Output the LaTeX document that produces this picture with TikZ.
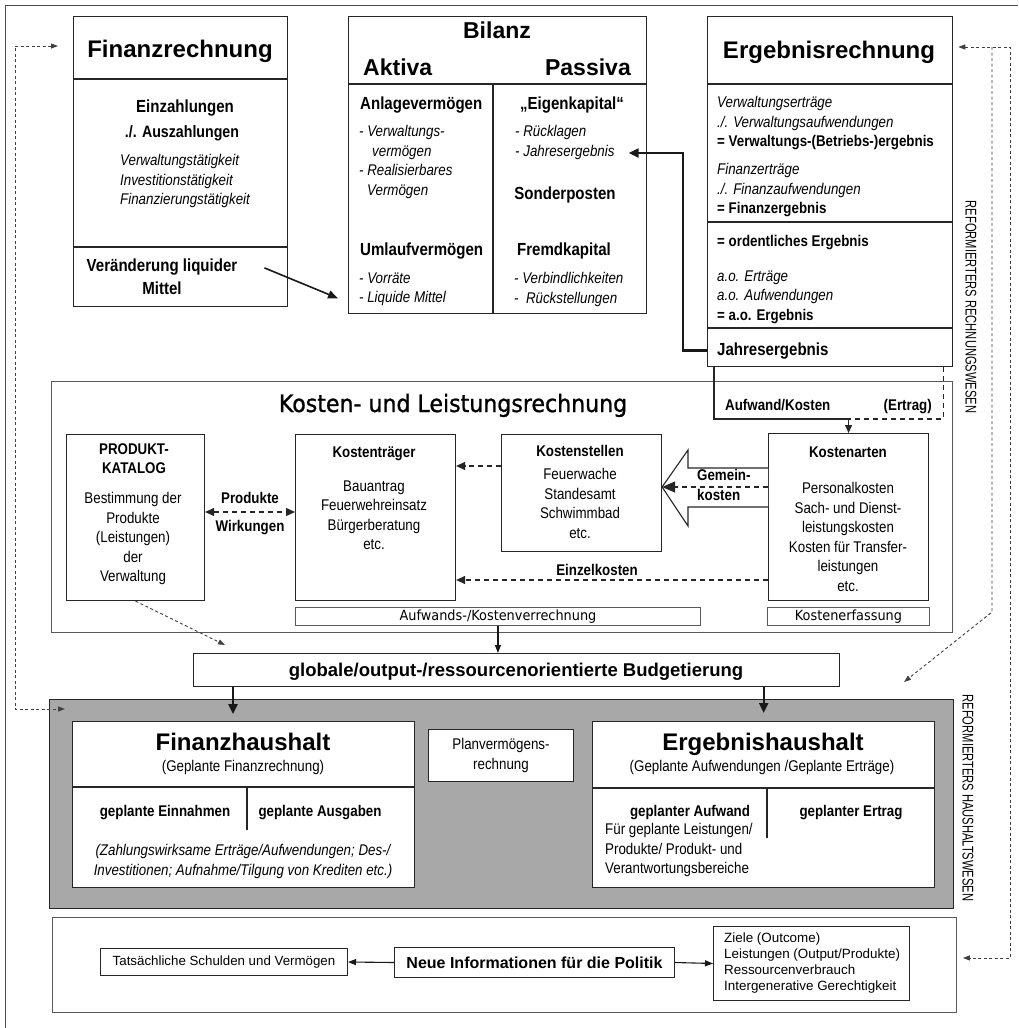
\documentclass[tikz,border=0pt]{standalone}
\usepackage{fontspec}
\setmainfont{Liberation Sans}[FakeStretch=0.86]
\newfontfamily\widefont{Liberation Sans}
\newfontfamily\condfont{Liberation Sans}[FakeStretch=0.72]
\newfontfamily\tahfont{DejaVu Sans}[FakeStretch=0.92]
\newfontfamily\tahtitlefont{DejaVu Sans}[FakeStretch=0.92, FakeBold=1]
\usetikzlibrary{calc, arrows.meta, positioning}

\begin{document}
\begin{tikzpicture}[
   x=1pt, y=-1pt,
   box/.style = {draw=black!85, line width=1.3pt, fill=white, inner sep=0pt, anchor=north west},
   thinbox/.style = {box, draw=black!65, line width=0.9pt},
   divline/.style = {draw=black!85, line width=1.1pt},
   title/.style = {font=\widefont\bfseries\fontsize{24}{28}\selectfont, inner sep=0pt, anchor=base},
   head/.style = {font=\bfseries\fontsize{17.5}{21}\selectfont, inner sep=0pt, anchor=base},
   lab/.style = {font=\bfseries\fontsize{15.5}{19.5}\selectfont, inner sep=0pt, anchor=base},
   txt/.style = {font=\fontsize{15.5}{19.5}\selectfont, inner sep=0pt, anchor=base},
   itxt/.style = {font=\itshape\fontsize{15.5}{19.5}\selectfont, inner sep=0pt, anchor=base},
   strt/.style = {execute at begin node=\strut},
   arr/.style = {draw=black!90, line width=1.6pt, -{Triangle[length=10pt, width=8pt]}},
   fatarr/.style = {draw=black!90, line width=2.2pt, -{Triangle[length=10pt, width=9pt]}},
   darr/.style = {draw=black!85, line width=1.2pt, dash pattern=on 5pt off 4pt, -{Triangle[length=9pt, width=8pt]}},
   fb/.style = {draw=black!75, line width=0.9pt, dash pattern=on 3pt off 2.5pt},
   fbend/.style = {-{Triangle[length=7pt, width=5pt]}},
   fbboth/.style = {{Triangle[length=7pt, width=5pt]}-{Triangle[length=7pt, width=5pt]}}]

   \fill[white] (0,0) rectangle (1018,1028);
   \useasboundingbox (0,0) rectangle (1018,1028);
   \draw[line width=1pt, black!70] (5,1028) -- (5,5) -- (1018,5);

   % Finanzrechnung
   \node[box, minimum width=214pt, minimum height=290pt] (fr) at (73,16) {};
   \draw[divline] (fr.west |- 0,79) -- (fr.east |- 0,79);
   \draw[divline] (fr.west |- 0,247) -- (fr.east |- 0,247);
   \node[title] (frT) at (180,57) {Finanzrechnung};
   \node[head] (frEin) at (185,112) {Einzahlungen};
   \node[head, font=\bfseries\fontsize{16.5}{20}\selectfont] (frAus) at (182,137) {./. Auszahlungen};
   \node[itxt, strt, align=left, anchor=north west] (frTaet) at (120,154.35) {Verwaltungstätigkeit\\Investitionstätigkeit\\Finanzierungstätigkeit};
   \node[head, strt, align=center, anchor=north, font=\bfseries\fontsize{17.5}{23}\selectfont] (frLiq) at (162,258.9) {Veränderung liquider\\Mittel};

   % Bilanz
   \node[box, minimum width=298pt, minimum height=297pt] (bil) at (348,16) {};
   \draw[divline] (bil.west |- 0,84) -- (bil.east |- 0,84);
   \draw[divline] (bil.south -| 493,0) -- (493,84);
   \node[title, font=\widefont\bfseries\fontsize{23}{27}\selectfont] (bilT) at (497,38) {Bilanz};
   \node[title, font=\widefont\bfseries\fontsize{23}{27}\selectfont, anchor=base west] (bilA) at (363,75) {Aktiva};
   \node[title, font=\widefont\bfseries\fontsize{23}{27}\selectfont, anchor=base east] (bilP) at (631,75) {Passiva};
   \node[head, anchor=base west] (anl) at (360,109) {Anlagevermögen};
   \node[itxt, strt, align=left, anchor=north west] (anlL) at (359,125.35) {- Verwaltungs-\\\hspace*{13pt}vermögen\\- Realisierbares\\\hspace*{8pt}Vermögen};
   \node[head, anchor=base west] (uml) at (360,255) {Umlaufvermögen};
   \node[itxt, strt, align=left, anchor=north west] (umlL) at (359,272.35) {- Vorräte\\- Liquide Mittel};
   \node[head] (ek) at (572,109) {„Eigenkapital“};
   \node[itxt, strt, align=left, anchor=north west] (ekL) at (515,125.35) {- Rücklagen\\- Jahresergebnis};
   \node[head] (sop) at (565,199) {Sonderposten};
   \node[head] (fk) at (564,255) {Fremdkapital};
   \node[itxt, strt, align=left, anchor=north west] (fkL) at (514,272.35) {- Verbindlichkeiten\\-\ \ Rückstellungen};

   % Ergebnisrechnung
   \node[box, minimum width=245pt, minimum height=350pt] (er) at (707,16) {};
   \foreach \yy in {84,222,328}
      \draw[divline] (er.west |- 0,\yy) -- (er.east |- 0,\yy);
   \node[title] (erT) at (829,58) {Ergebnisrechnung};
   \node[txt, strt, align=left, anchor=north west] (erVw) at (717,96.35) {\textit{Verwaltungserträge}\\\textit{./. Verwaltungsaufwendungen}\\\textbf{= Verwaltungs-(Betriebs-)ergebnis}};
   \node[txt, strt, align=left, anchor=north west] (erFi) at (717,163.35) {\textit{Finanzerträge}\\\textit{./. Finanzaufwendungen}\\\textbf{= Finanzergebnis}};
   \node[lab, anchor=base west] (erOrd) at (717,246) {= ordentliches Ergebnis};
   \node[txt, strt, align=left, anchor=north west] (erAo) at (717,270.35) {\textit{a.o. Erträge}\\\textit{a.o. Aufwendungen}\\\textbf{= a.o. Ergebnis}};
   \node[head, anchor=base west] (erJ) at (717,355) {Jahresergebnis};

   \draw[arr] ($(frLiq.north east)+(27,9)$) -- ($(bil.south west)+(-10,-16)$);
   \draw[fatarr] (er.west |- erJ) -- ++(-24,0) |- ($(ekL.east |- 0,153)+(14,0)$);

   % Kosten- und Leistungsrechnung
   \node[thinbox, minimum width=901pt, minimum height=251pt] (klr) at (51,381) {};
   \node[font=\tahtitlefont\fontsize{24}{28}\selectfont, inner sep=0pt, anchor=base] (klrT) at (453,412) {Kosten- und Leistungsrechnung};
   \node[lab, anchor=base west] (aufw) at (725,410) {Aufwand/Kosten};
   \node[lab, anchor=base east] (ertr) at (932,410) {(Ertrag)};

   \node[box, line width=1.1pt, minimum width=138pt, minimum height=166pt] (pk) at (66,434) {};
   \node[box, line width=1.1pt, minimum width=160pt, minimum height=166pt] (ktr) at (295,434) {};
   \node[box, line width=1.1pt, minimum width=160pt, minimum height=117pt] (kstl) at (501,434) {};
   \node[box, line width=1.1pt, minimum width=160pt, minimum height=167pt] (ka) at (768,433) {};
   \node[thinbox, minimum width=405pt, minimum height=18pt, font=\tahfont\fontsize{14}{16}\selectfont] (akv) at (295,607) {Aufwands-/Kostenverrechnung};
   \node[thinbox, minimum width=162pt, minimum height=18pt, font=\tahfont\fontsize{14}{16}\selectfont] (kef) at (767,607) {Kostenerfassung};

   \node[lab, strt, align=center, anchor=north] (pkT) at (134,443.35) {PRODUKT-\\KATALOG};
   \node[txt, strt, align=center, anchor=north] (pkL) at (133,492.35) {Bestimmung der\\Produkte\\(Leistungen)\\der\\Verwaltung};
   \node[lab] (prod) at (250,503) {Produkte};
   \node[lab] (wirk) at (250,531) {Wirkungen};
   \node[lab] (ktrT) at (374,457) {Kostenträger};
   \node[txt, strt, align=center, anchor=north] (ktrL) at (374,480.35) {Bauantrag\\Feuerwehreinsatz\\Bürgerberatung\\etc.};
   \node[lab] (kstlT) at (580,456) {Kostenstellen};
   \node[txt, strt, align=center, anchor=north] (kstlL) at (580,468.35) {Feuerwache\\Standesamt\\Schwimmbad\\etc.};
   \node[lab] (kaT) at (848,457) {Kostenarten};
   \node[txt, strt, align=center, anchor=north] (kaL) at (848,482.35) {Personalkosten\\Sach- und Dienst-\\leistungskosten\\Kosten für Transfer-\\leistungen\\etc.};

   \draw[line width=1.2pt, draw=black!85, -{Triangle[length=8pt, width=7pt]}] ([xshift=7pt]er.south west) |- (ka.north |- 0,419) -- (ka.north);
   \draw[line width=1.2pt, draw=black!85, dash pattern=on 5pt off 4pt] ([xshift=-10pt]er.south east) |- (ka.north |- 0,419);

   \draw[line width=1.1pt, draw=black!85, fill=white] (ka.west |- 0,468) -- (688,468) -- (688,450) -- (kstl.east |- 0,487) -- (688,526) -- (688,507) -- (ka.west |- 0,507);
   \draw[darr, -{Triangle[length=13pt, width=11pt]}] (ka.west |- 0,487) -- (kstl.east |- 0,487);
   \node[lab, strt, align=left, anchor=north west] (gk) at (697,469.35) {Gemein-\\kosten};
   \draw[darr] (kstl.west |- 0,466) -- (ktr.east |- 0,466);
   \draw[darr] (ka.west |- 0,580) -- (ktr.east |- 0,580);
   \node[lab] (ezk) at (597,575) {Einzelkosten};
   \draw[darr, {Triangle[length=9pt, width=8pt]}-{Triangle[length=9pt, width=8pt]}] (pk.east |- 0,512) -- (ktr.west |- 0,512);

   % Budgetierung
   \node[box, line width=1.1pt, minimum width=646pt, minimum height=33pt] (bud) at (193,653) {};
   \node[font=\widefont\bfseries\fontsize{18.5}{22}\selectfont, inner sep=0pt, anchor=base] (budT) at (516,676) {globale/output-/ressourcenorientierte Budgetierung};
   \draw[arr, line width=1.1pt, -{Triangle[length=8pt, width=6pt]}] (akv.south) -- (akv.south |- bud.north);
   \draw[fb, fbend] (pk.south) -- ($(bud.north west)+(32,-8)$);

   % Haushalt
   \node[box, fill=black!34, line width=1pt, minimum width=904pt, minimum height=209pt] (hh) at (49,699) {};
   \node[box, minimum width=342pt, minimum height=166pt] (fhh) at (72,721) {};
   \draw[divline] (fhh.west |- 0,787) -- (fhh.east |- 0,787);
   \draw[divline] (247,787) -- (247,830);
   \node[title] (fhhT) at (243,750) {Finanzhaushalt};
   \node[txt] (fhhS) at (243,771) {(Geplante Finanzrechnung)};
   \node[lab] (fhhE) at (165,816) {geplante Einnahmen};
   \node[lab] (fhhA) at (320,816) {geplante Ausgaben};
   \node[itxt, strt, align=center, anchor=north] (fhhZ) at (243,844.35) {(Zahlungswirksame Erträge/Aufwendungen; Des-/\\Investitionen; Aufnahme/Tilgung von Krediten etc.)};

   \node[box, line width=1.1pt, minimum width=145pt, minimum height=52pt] (pvr) at (428,729) {};
   \node[txt, strt, align=center, anchor=north] (pvrT) at (501,738.35) {Planvermögens-\\rechnung};

   \node[box, minimum width=342pt, minimum height=166pt] (ehh) at (592,721) {};
   \draw[divline] (ehh.west |- 0,788) -- (ehh.east |- 0,788);
   \draw[divline] (767,788) -- (767,838);
   \node[title] (ehhT) at (763,750) {Ergebnishaushalt};
   \node[txt] (ehhS) at (762,771) {(Geplante Aufwendungen /Geplante Erträge)};
   \node[lab] (ehhA) at (690,816) {geplanter Aufwand};
   \node[lab] (ehhE) at (851,816) {geplanter Ertrag};
   \node[txt, strt, align=left, anchor=north west] (ehhL) at (605,823.35) {Für geplante Leistungen/\\Produkte/ Produkt- und\\Verantwortungsbereiche};

   \draw[fatarr] ($(bud.south west)+(40,0)$) -- ++(0,27);
   \draw[fatarr] (bud.south -| ehh.north) -- ($(ehh.north)+(0,-8)$);

   % Politik
   \node[thinbox, minimum width=904pt, minimum height=95pt] (pol) at (52,917) {};
   \node[box, line width=1pt, minimum width=247pt, minimum height=27pt, font=\widefont\fontsize{13.3}{16}\selectfont] (tsv) at (100,948) {Tatsächliche Schulden und Vermögen};
   \node[box, line width=1pt, minimum width=280pt, minimum height=30pt, font=\widefont\bfseries\fontsize{16}{19}\selectfont] (neu) at (394,947) {Neue Informationen für die Politik};
   \node[box, line width=1pt, minimum width=196pt, minimum height=74pt] (ziel) at (713,926) {};
   \node[font=\widefont\fontsize{13.4}{16}\selectfont, inner sep=0pt, strt, align=left, anchor=north west] (zielT) at (724,932.8) {Ziele (Outcome)\\Leistungen (Output/Produkte)\\Ressourcenverbrauch\\Intergenerative Gerechtigkeit};
   \draw[arr, line width=1.1pt, -{Triangle[length=8pt, width=6pt]}] (neu.west) -- (tsv.east);
   \draw[arr, line width=1.1pt, -{Triangle[length=8pt, width=6pt]}] (neu.east) -- (ziel.west);

   % Rueckkopplung
   \coordinate (lfb) at (15,400);
   \coordinate (rfb) at (1010,47);
   \coordinate (rfbi) at (992,47);
   \coordinate (rfbk) at (992,612);
   \draw[fb, fbboth] ($(fr.north west)+(-15,30)$) -| (lfb) |- ($(hh.north west)+(16,10)$);
   \draw[fb, fbboth] ($(er.north east)+(5,31)$) -- (rfb) |- ($(pol.east)+(6,-7)$);
   \draw[fb, fbend] (rfbi) -- (rfbk) -- ($(hh.north east)+(-50,-17)$);

   \node[font=\condfont\fontsize{15.5}{18}\selectfont, rotate=-90, inner sep=0pt] (rrw) at (971,307) {REFORMIERTERS RECHNUNGSWESEN};
   \node[font=\condfont\fontsize{15.5}{18}\selectfont, rotate=-90, inner sep=0pt] (rhw) at (968,798) {REFORMIERTERS HAUSHALTSWESEN};
\end{tikzpicture}
\end{document}
